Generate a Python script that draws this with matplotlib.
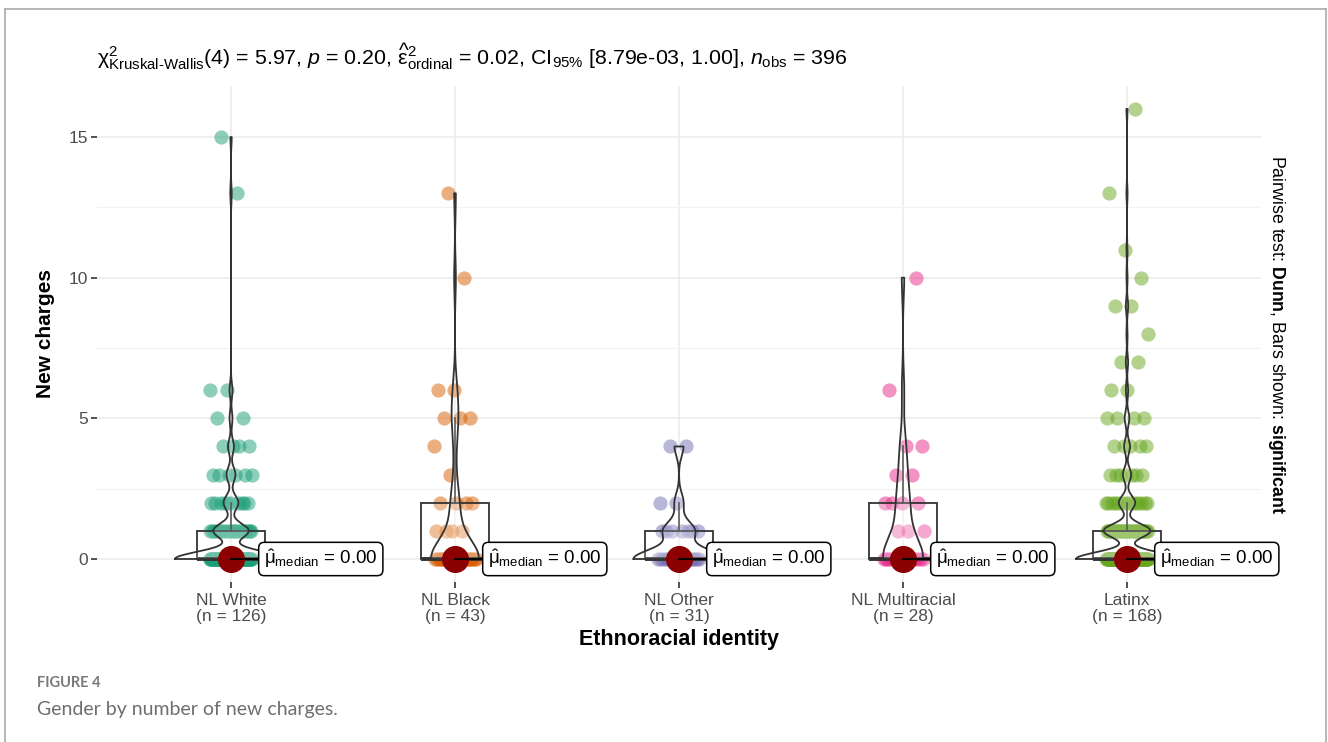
import numpy as np
import matplotlib
matplotlib.use("Agg")
import matplotlib.pyplot as plt
from matplotlib.lines import Line2D
from matplotlib.patches import Rectangle

# ---------------- data (value -> count per group) ----------------
groups = ["NL White", "NL Black", "NL Other", "NL Multiracial", "Latinx"]
group_n = [126, 43, 31, 28, 168]
white_vals = [0, 1, 2, 3, 4, 5, 6, 13, 15]
white_cnts = [76, 24, 10, 6, 4, 2, 2, 1, 1]
black_vals = [0, 1, 2, 3, 4, 5, 6, 10, 13]
black_cnts = [26, 4, 4, 1, 1, 3, 2, 1, 1]
other_vals = [0, 1, 2, 4]
other_cnts = [20, 7, 2, 2]
multi_vals = [0, 1, 2, 3, 4, 6, 10]
multi_cnts = [15, 3, 4, 2, 2, 1, 1]
latinx_vals = [0, 1, 2, 3, 4, 5, 6, 7, 8, 9, 10, 11, 13, 16]
latinx_cnts = [87, 40, 14, 7, 5, 4, 2, 2, 1, 2, 1, 1, 1, 1]
colors = ["#1B9E77", "#D95F02", "#7570B3", "#E7298A", "#66A61E"]
y_ticks = [0, 5, 10, 15]
title_stats = dict(df=4, chi2="5.97", p="0.20", eps="0.02",
                   ci_lo="8.79e-03", ci_hi="1.00", nobs=396)

vals_list = [white_vals, black_vals, other_vals, multi_vals, latinx_vals]
cnts_list = [white_cnts, black_cnts, other_cnts, multi_cnts, latinx_cnts]
data = [np.repeat(np.array(v, float), c) for v, c in zip(vals_list, cnts_list)]

# ---------------- figure ----------------
plt.rcParams["mathtext.fontset"] = "custom"
plt.rcParams["mathtext.rm"] = "Liberation Sans"
plt.rcParams["mathtext.it"] = "Liberation Sans:italic"
plt.rcParams["mathtext.bf"] = "Liberation Sans:bold"
plt.rcParams["font.family"] = ["Liberation Sans", "DejaVu Sans"]

W, H = 1328, 742
fig = plt.figure(figsize=(W / 100, H / 100), dpi=100)

def px(x0, y0, x1, y1):
    return [x0 / W, 1 - y1 / H, (x1 - x0) / W, (y1 - y0) / H]

ax = fig.add_axes(px(96.6, 86.4, 1261.4, 581.5))
ax.set_xlim(0.4, 5.6)
ax.set_ylim(-0.8, 16.8)
for s in ax.spines.values():
    s.set_visible(False)

ax.set_yticks(y_ticks)
ax.set_yticks([2.5, 7.5, 12.5], minor=True)
ax.grid(which="major", color="#EBEBEB", lw=1.1, zorder=0)
ax.grid(which="minor", axis="y", color="#F2F2F2", lw=0.9, zorder=0)
ax.set_axisbelow(True)
ax.tick_params(axis="y", which="major", length=4, width=1.2, color="#333333",
               labelsize=12.5, labelcolor="#4D4D4D", pad=2)
ax.tick_params(axis="y", which="minor", length=0)
ax.tick_params(axis="x", length=4, width=1.2, color="#333333",
               labelsize=12.5, labelcolor="#4D4D4D", pad=4)
ax.set_xticks(range(1, 6))
ax.set_xticklabels([f"{g}\n(n = {n})" for g, n in zip(groups, group_n)],
                   linespacing=1.15)

# KDE (gaussian, bw.nrd0, trimmed)
def kde(x):
    n = len(x)
    q1, q3 = np.percentile(x, [25, 75])
    lo = min(np.std(x, ddof=1), (q3 - q1) / 1.34)
    bw = 0.9 * lo * n ** (-0.2)
    grid = np.linspace(x.min(), x.max(), 512)
    d = np.exp(-0.5 * ((grid[:, None] - x[None, :]) / bw) ** 2).sum(1) / (n * bw * np.sqrt(2 * np.pi))
    return grid, d

kdes = [kde(d) for d in data]
dmax = max(k[1].max() for k in kdes)

for i, (x, col) in enumerate(zip(data, colors)):
    c = i + 1
    # jittered points (deterministic horizontal spread)
    idx = np.arange(len(x))
    offs = ((idx * 0.6180339887 + 0.37 * i) % 1.0 - 0.5) * 0.19
    ax.scatter(c + offs, x, s=105, color=col, alpha=0.5, lw=0, zorder=2)

    # boxplot
    q1, med, q3 = np.percentile(x, [25, 50, 75])
    iqr = q3 - q1
    wtop = x[x <= q3 + 1.5 * iqr].max()
    wbot = x[x >= q1 - 1.5 * iqr].min()
    bw_ = 0.3
    ax.add_patch(Rectangle((c - bw_ / 2, q1), bw_, q3 - q1, facecolor=(1, 1, 1, 0.2),
                           edgecolor="#333333", lw=1.3, zorder=3))
    ax.plot([c - bw_ / 2, c + bw_ / 2], [med, med], color="#333333", lw=2.8,
            solid_capstyle="butt", zorder=3)
    ax.plot([c, c], [q3, wtop], color="#333333", lw=1.2, zorder=3)
    ax.plot([c, c], [wbot, q1], color="#333333", lw=1.2, zorder=3)

    # violin
    g, d = kdes[i]
    hw = d / dmax * 0.25
    ax.fill_betweenx(g, c - hw, c + hw, facecolor=(1, 1, 1, 0.2), edgecolor="none", zorder=4)
    ax.plot(np.r_[c - hw, (c + hw)[::-1], c - hw[0]], np.r_[g, g[::-1], g[0]],
            color="#333333", lw=1.3, zorder=4)

    # median point + label
    ax.scatter([c], [med], s=380, color="#8B0000", lw=0, zorder=5)
    ax.plot([c, c + 0.14], [med, med], color="black", lw=1.3, zorder=6)
    ax.text(c + 0.147, med, r"$\hat{\mathrm{\mu}}_{\mathrm{median}}$ = " + f"{med:.2f}",
            ha="left", va="center", fontsize=13.5, color="black", zorder=7,
            bbox=dict(boxstyle="round,pad=0.28,rounding_size=0.3", fc="white",
                      ec="black", lw=1.1))

ax.set_ylabel("New charges", fontsize=15, fontweight="bold", labelpad=10)
ax.set_xlabel("Ethnoracial identity", fontsize=15.5, fontweight="bold", labelpad=3)

# title (stats)
s = title_stats
title = (r"$\mathrm{\chi}^2_{\mathrm{Kruskal" + "\u2010" + r"Wallis}}(" + str(s["df"]) + r")$ = " + s["chi2"]
         + r", $\mathit{p}$ = " + s["p"]
         + r", $\widehat{\mathrm{\varepsilon}}^2_{\mathrm{ordinal}}$ = " + s["eps"]
         + r", $\mathrm{CI}_{95\%}$ [" + s["ci_lo"] + ", " + s["ci_hi"] + "], "
         + r"$\mathit{n}_{\mathrm{obs}}$ = " + str(s["nobs"]))
fig.text(97 / W, 1 - 65 / H, title, fontsize=15.4, ha="left", va="baseline", color="black")

# right-side caption
fig.text(1277 / W, 1 - 334 / H,
         r"Pairwise test: $\mathbf{Dunn}$, Bars shown: $\mathbf{significant}$",
         rotation=270, ha="center", va="center", fontsize=12.8, color="black")

# figure caption
fig.text(37 / W, 1 - 683 / H, "FIGURE 4", fontsize=10.5, fontweight="bold",
         color="#7A7A7A", family=["Lato", "DejaVu Sans"], ha="left", va="center")
fig.text(37 / W, 1 - 710 / H, "Gender by number of new charges.", fontsize=14,
         color="#6E6E6E", family=["Lato", "DejaVu Sans"], ha="left", va="center")

# page frame
fc = "#AAAAAA"
fig.add_artist(Line2D([4.5 / W, 4.5 / W], [0, 1 - 8.5 / H], color=fc, lw=1.2, transform=fig.transFigure))
fig.add_artist(Line2D([4.5 / W, 1326 / W], [1 - 8.5 / H, 1 - 8.5 / H], color=fc, lw=1.2, transform=fig.transFigure))
fig.add_artist(Line2D([1326 / W, 1326 / W], [0, 1 - 8.5 / H], color=fc, lw=1.2, transform=fig.transFigure))

fig.savefig("out.png", dpi=100)
